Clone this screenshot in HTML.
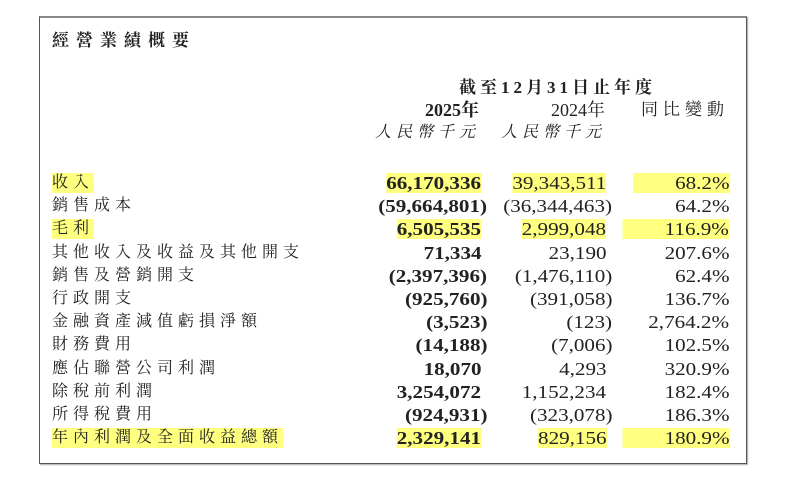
<!DOCTYPE html>
<html><head><meta charset="utf-8"><style>
body{margin:0;width:785px;height:479px;background:#fff;position:relative;overflow:hidden;font-family:"Liberation Serif","Noto Serif CJK TC","Noto Serif CJK SC",serif;color:#222}
.box{position:absolute;left:39px;top:16px;width:706px;height:445px;border:1px solid #555;border-top:2px solid #888;box-shadow:1px 1px 1px #aaa}
.t{position:absolute;white-space:nowrap;font-size:16px;line-height:20px}
.n{font-size:18px;transform:scaleX(1.17);transform-origin:right center}
.l{left:52px;letter-spacing:5px}
.r{text-align:right}
.hl{background:#ffff80}
</style></head><body>
<div class="box"></div>
<div class="t" style="left:52px;top:31px;font-weight:bold;letter-spacing:7px;font-size:17px">經營業績概要</div>
<div class="t" style="left:459px;top:78px;font-weight:bold;letter-spacing:4px;font-size:17px">截至12月31日止年度</div>
<div class="t r" style="right:306px;top:100px;font-weight:bold;font-size:18px">2025年</div>
<div class="t r" style="right:180px;top:100px;font-size:18px">2024年</div>
<div class="t r" style="right:56px;top:100px;letter-spacing:5px;font-size:17px">同比變動</div>
<div class="t r" style="right:305px;top:123px;font-style:italic;letter-spacing:5px">人民幣千元</div>
<div class="t r" style="right:179px;top:123px;font-style:italic;letter-spacing:5px">人民幣千元</div>
<div id="rows"></div>
<script>
var d=[
["收入","66,170,336","39,343,511","68.2%",1],
["銷售成本","(59,664,801)","(36,344,463)","64.2%",0],
["毛利","6,505,535","2,999,048","116.9%",1],
["其他收入及收益及其他開支","71,334","23,190","207.6%",0],
["銷售及營銷開支","(2,397,396)","(1,476,110)","62.4%",0],
["行政開支","(925,760)","(391,058)","136.7%",0],
["金融資產減值虧損淨額","(3,523)","(123)","2,764.2%",0],
["財務費用","(14,188)","(7,006)","102.5%",0],
["應佔聯營公司利潤","18,070","4,293","320.9%",0],
["除稅前利潤","3,254,072","1,152,234","182.4%",0],
["所得稅費用","(924,931)","(323,078)","186.3%",0],
["年內利潤及全面收益總額","2,329,141","829,156","180.9%",1]];
var h="";
d.forEach(function(r,i){
 var y=173+i*23.2;var c=r[4]?" hl":"";
 var p1=r[1].charAt(0)=="(",p2=r[2].charAt(0)=="(";
 h+='<div class="t l'+c+'" style="top:'+y+'px">'+r[0]+'</div>';
 h+='<div class="t r n'+c+'" style="right:'+(p1?298:304)+'px;top:'+y+'px;font-weight:bold">'+r[1]+'</div>';
 h+='<div class="t r n'+c+'" style="right:'+(p2?173:179)+'px;top:'+y+'px">'+r[2]+'</div>';
 h+='<div class="t r n'+c+'" style="right:56px;top:'+y+'px;'+(r[4]?'padding-left:36px;':'')+'">'+r[3]+'</div>';
});
document.getElementById("rows").innerHTML=h;
</script>
</body></html>
